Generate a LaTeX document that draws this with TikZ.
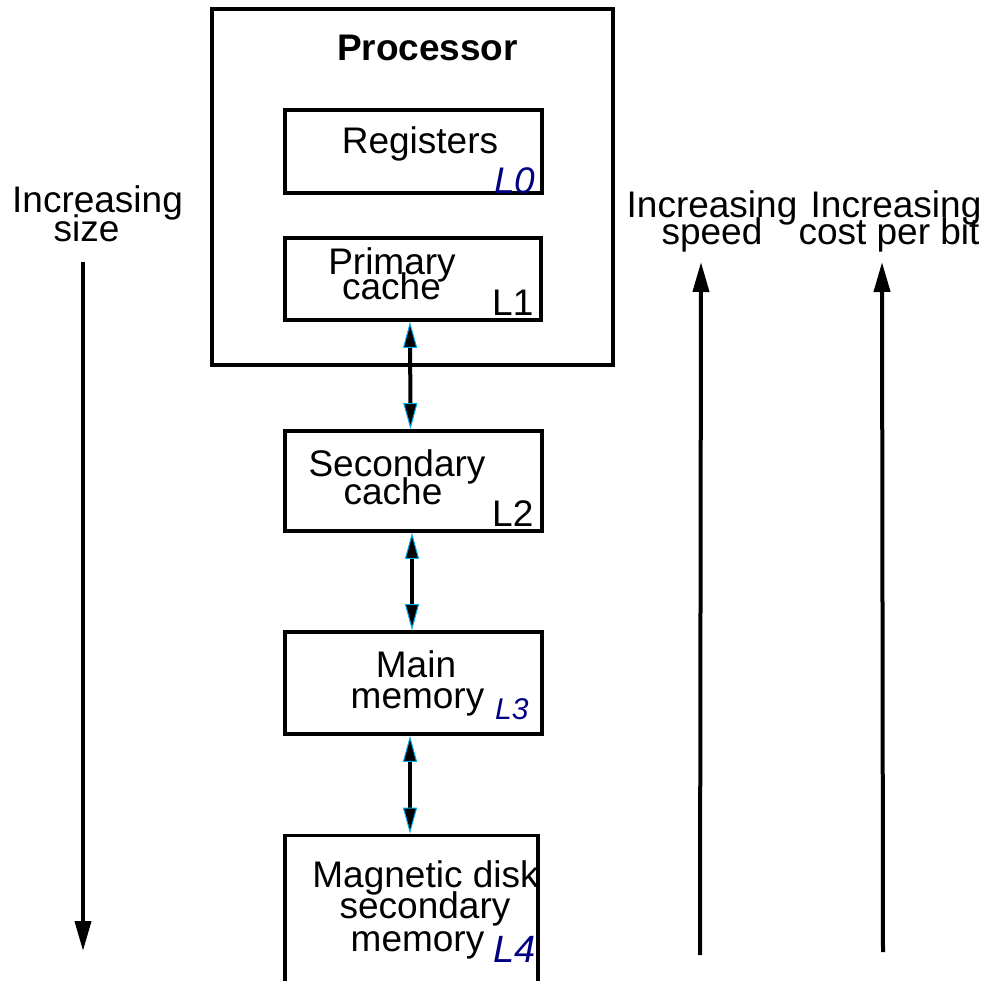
\documentclass[tikz,border=0pt]{standalone}
\usepackage{fontspec}
\setmainfont{Liberation Sans}
\usetikzlibrary{arrows.meta}
\definecolor{navyL}{RGB}{0,0,130}
\begin{document}
\begin{tikzpicture}[x=1pt,y=-1pt,
  box/.style={draw,line width=3.6pt,inner sep=0pt,rectangle},
  txt/.style={anchor=base,inner sep=0pt,font=\fontsize{37}{37}\selectfont},
  lab/.style={anchor=base west,inner sep=0pt,font=\fontsize{37}{37}\selectfont},
  bluelab/.style={anchor=base west,inner sep=0pt,text=navyL,font=\fontsize{37}{37}\selectfont\itshape},
  dbl/.style={line width=4pt,{Triangle[color=cyan,fill=black,line width=1pt,width=14pt,length=26pt]}-{Triangle[color=cyan,fill=black,line width=1pt,width=14pt,length=26pt]}},
  big/.style={line width=4pt,-{Triangle[width=16pt,length=30pt]}}
]
\clip (0,0) rectangle (986,981);
% boxes
\node[box,minimum width=401,minimum height=356] (proc) at (412.5,187) {};
\node[box,minimum width=257,minimum height=83] (reg) at (413.5,151.5) {};
\node[box,minimum width=256,minimum height=82] (pc) at (413,279) {};
\node[box,minimum width=257,minimum height=100] (sc) at (413.5,481) {};
\node[box,minimum width=257,minimum height=102] (mm) at (413.5,683) {};
\node[box,minimum width=253,minimum height=200] (md) at (411.5,935.5) {};
% texts
\node[txt,font=\fontsize{37}{37}\selectfont\bfseries] (tproc) at (427.5,61) {Processor};
\node[txt] (treg) at (420,154) {Registers};
\node[bluelab] (l0) at (494,194) {L0};
\node[txt] (tpc1) at (392,275) {Primary};
\node[txt] (tpc2) at (391.5,300) {cache};
\node[lab] (l1) at (492,316) {L1};
\node[txt] (tsc1) at (397,477) {Secondary};
\node[txt] (tsc2) at (393,505) {cache};
\node[lab] (l2) at (492,527) {L2};
\node[txt] (tmm1) at (416,677) {Main};
\node[txt] (tmm2) at (417.5,708) {memory};
\node[bluelab,font=\fontsize{30}{30}\selectfont\itshape] (l3) at (495,719) {L3};
\node[txt] (tmd1) at (425.5,887) {Magnetic disk};
\node[txt] (tmd2) at (425,918) {secondary};
\node[txt] (tmd3) at (417.5,951) {memory};
\node[bluelab,font=\fontsize{38}{38}\selectfont\itshape] (l4) at (493,962) {L4};
\node[txt] (tsz1) at (97.5,213) {Increasing};
\node[txt] (tsz2) at (86.5,242) {size};
\node[txt] (tsp1) at (712,218) {Increasing};
\node[txt] (tsp2) at (712,245) {speed};
\node[txt] (tco1) at (896,218) {Increasing};
\node[txt] (tco2) at (889,245) {cost per bit};
% connectors
\draw[dbl] ([xshift=-3pt]pc.south) -- ([xshift=-3pt]sc.north);
\draw[dbl] ([xshift=-1.5pt]sc.south) -- ([xshift=-1.5pt]mm.north);
\draw[dbl] ([xshift=-3.5pt]mm.south) -- ([xshift=-1.5pt]md.north);
% side arrows
\coordinate (s1) at (83,262);
\coordinate (s2) at (83,951);
\coordinate (p1) at (700,955);
\coordinate (p2) at (701,262);
\coordinate (c1) at (883,952);
\coordinate (c2) at (882,262);
\draw[big] (s1) -- (s2);
\draw[big] (p1) -- (p2);
\draw[big] (c1) -- (c2);
\end{tikzpicture}
\end{document}
